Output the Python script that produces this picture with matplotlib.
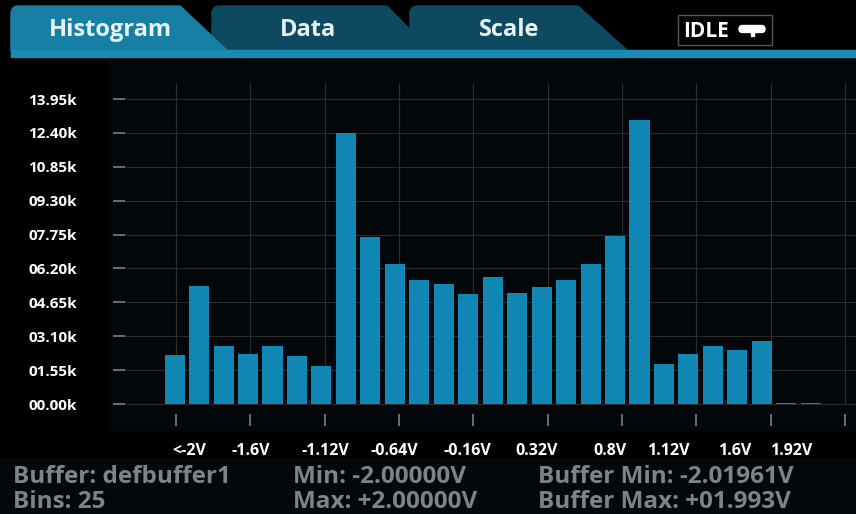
import numpy as np
import matplotlib
matplotlib.use("Agg")
import matplotlib.pyplot as plt
from matplotlib.patches import Polygon, Rectangle, FancyBboxPatch
from matplotlib.ticker import FuncFormatter
import matplotlib.transforms as mtransforms

# ---- histogram data (readings per bin) ----
counts = [2240, 5400, 2670, 2290, 2670, 2210, 1750, 12410, 7650, 6390,
          5670, 5490, 5020, 5820, 5060, 5340, 5670, 6400, 7700, 12990,
          1830, 2290, 2670, 2480, 2900, 60, 60]
y_ticks = [0, 1550, 3100, 4650, 6200, 7750, 9300, 10850, 12400, 13950]
x_labels = ["<-2V", "-1.6V", "-1.12V", "-0.64V", "-0.16V",
            "0.32V", "0.8V", "1.12V", "1.6V", "1.92V"]
label_pos = [0.6, 3.1, 6.15, 8.97, 11.95, 14.81, 17.8, 20.17, 22.91, 25.2]

tab_names = ["Histogram", "Data", "Scale"]
status = "IDLE"
info_left = ["Buffer: defbuffer1", "Bins: 25"]
info_mid = ["Min: -2.00000V", "Max: +2.00000V"]
info_right = ["Buffer Min: -2.01961V", "Buffer Max: +01.993V"]

# ---- style ----
plt.rcParams["font.family"] = ["Open Sans", "DejaVu Sans"]
plt.rcParams["font.weight"] = "bold"
BAR = "#1187b5"
TAB_ON = "#177fa3"
TAB_OFF = "#0d4960"
STRIP = "#1a8ab2"
GRID = "#2a2a2a"
TICK = "#8a8a8a"
INFO = "#7e8386"

W, H = 856, 514
fig = plt.figure(figsize=(W / 100, H / 100), dpi=100, facecolor="black")

# screen layer in pixel coordinates (y pointing down)
ui = fig.add_axes([0, 0, 1, 1], zorder=0)
ui.set_xlim(0, W)
ui.set_ylim(H, 0)
ui.axis("off")
ui.set_facecolor("black")


def tab_shape(x0, x1, x2, top, bottom, r=7):
    th = np.linspace(np.pi, np.pi / 2, 10)
    arc = np.column_stack([x0 + r + r * np.cos(th), top + r - r * np.sin(th)])
    return np.vstack([[x0, bottom], arc, [x1, top], [x2, bottom]])


ui.add_patch(Polygon(tab_shape(212, 387, 430, 6, 50), closed=True,
                     color=TAB_OFF, zorder=1))
ui.add_patch(Polygon(tab_shape(410, 578, 627, 6, 50), closed=True,
                     color=TAB_OFF, zorder=2))
ui.add_patch(Polygon(tab_shape(11, 180, 228, 6, 51), closed=True,
                     color=TAB_ON, zorder=3))
ui.add_patch(Rectangle((11, 50), W - 11, 7, color=STRIP, zorder=4))

for name, cx in zip(tab_names, [110, 308, 509]):
    ui.text(cx, 36, name, ha="center", va="baseline", fontsize=17,
            color="#e8f4f8", zorder=5)

# status box
ui.add_patch(Rectangle((678, 15), 94, 30, facecolor="black",
                       edgecolor="#555555", lw=1, zorder=5))
ui.text(683, 37, status, ha="left", va="baseline", fontsize=15,
        color="white", zorder=6)
ui.add_patch(FancyBboxPatch((739, 25.5), 26, 7, boxstyle="round,pad=0,rounding_size=3.5",
                            color="white", zorder=6))
ui.add_patch(Rectangle((751, 31), 3, 5, color="white", zorder=6))

# plot panel and footer backgrounds
ui.add_patch(Rectangle((108, 60), W - 108, 370, color="#030709", zorder=0))
ui.add_patch(Rectangle((0, 458), W, H - 458, color="#02080c", zorder=0))

# ---- histogram axes ----
px_per_count = 21.86 / 1000.0
zero_px, top_px, bot_px, left_px = 404, 83, 426, 125
ax = fig.add_axes([left_px / W, (H - bot_px) / H,
                   (W - left_px) / W, (bot_px - top_px) / H], zorder=1)
ax.patch.set_alpha(0)
for s in ax.spines.values():
    s.set_visible(False)

y_lo = -(bot_px - zero_px) / px_per_count
y_hi = (zero_px - top_px) / px_per_count
ax.set_ylim(y_lo, y_hi)
ax.set_xlim(-2.03, 27.85)

idx = np.arange(len(counts))
ax.bar(idx, counts, width=0.82, color=BAR, zorder=3)

ax.set_yticks(y_ticks)
ax.yaxis.set_major_formatter(FuncFormatter(lambda v, p: f"{v / 1000:05.2f}k"))
ax.tick_params(axis="y", direction="out", length=8.6, width=1.1, color=TICK,
               pad=26, labelsize=11, labelcolor="white")
ax.grid(axis="y", color=GRID, lw=0.8)
ax.set_axisbelow(True)

grid_x = 0.05 + 3.04 * np.arange(10)
ax.set_xticks(grid_x)
ax.set_xticklabels([])
ax.tick_params(axis="x", direction="in", length=8.6, width=1.1, color=TICK)
ax.vlines(grid_x, 0, y_hi, color="#2e2e2e", lw=0.8, zorder=1)

trans = mtransforms.blended_transform_factory(ax.transData, ui.transData)
for lab, xp in zip(x_labels, label_pos):
    ui.text(xp, 455, lab, transform=trans, ha="center", va="baseline",
            fontsize=11.5, color="white", zorder=5)

# ---- footer information ----
for col_x, lines in zip([13, 293, 538], [info_left, info_mid, info_right]):
    for base_y, line in zip([483, 508], lines):
        ui.text(col_x, base_y, line, ha="left", va="baseline", fontsize=17.5,
                color=INFO, zorder=5)

fig.savefig("out.png", dpi=100, facecolor="black")
